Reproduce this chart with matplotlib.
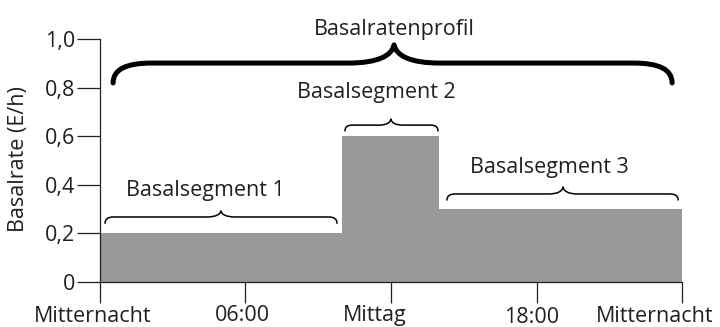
import matplotlib
matplotlib.use("Agg")
import matplotlib.pyplot as plt
from matplotlib.path import Path
from matplotlib.patches import PathPatch
from matplotlib.transforms import ScaledTranslation

plt.rcParams['font.family'] = ['Open Sans', 'DejaVu Sans']

# ---- data ----
seg_starts = [0, 10, 14]
seg_ends = [10, 14, 24]
seg_rates = [0.2, 0.6, 0.3]
seg_labels = ["Basalsegment 1", "Basalsegment 2", "Basalsegment 3"]
profile_label = "Basalratenprofil"
x_ticks = [0, 6, 12, 18, 24]
x_tick_labels = ["Mitternacht", "06:00", "Mittag", "18:00", "Mitternacht"]
y_ticks = [0, 0.2, 0.4, 0.6, 0.8, 1.0]
y_tick_labels = ["0", "0,2", "0,4", "0,6", "0,8", "1,0"]
y_label = "Basalrate (E/h)"

TXT = '#231f20'
FILL = '#999999'
FS = 15.5

fig = plt.figure(figsize=(7.2, 3.27), dpi=100)
ax = fig.add_axes([0.1382, 0.1385, 0.8094, 0.7413])

xs = seg_starts + [seg_ends[-1]]
ys = seg_rates + [seg_rates[-1]]
ax.fill_between(xs, 0, ys, step='post', color=FILL, lw=0, zorder=1)

ax.set_xlim(0, 24)
ax.set_ylim(0, 1.0)
for s in ['top', 'right']:
    ax.spines[s].set_visible(False)
for s in ['left', 'bottom']:
    ax.spines[s].set_color(TXT)
    ax.spines[s].set_linewidth(0.9)
    ax.spines[s].set_zorder(3)

ax.set_xticks(x_ticks)
ax.set_xticklabels(x_tick_labels, fontsize=FS, color=TXT)
ax.set_yticks(y_ticks)
ax.set_yticklabels(y_tick_labels, fontsize=FS, color=TXT)
ax.tick_params(axis='x', direction='out', length=15, width=0.9, color=TXT, pad=0)
ax.tick_params(axis='y', direction='out', length=16.5, width=0.9, color=TXT, pad=1)
ax.text(-0.139, 0.506, y_label, transform=ax.transAxes, rotation=90,
        ha='center', va='center', fontsize=FS, color=TXT)

# per-label pixel offsets (dx, dy) as in the reference layout
offsets = [(-7, -3), (-2.5, -2), (-16, -2), (-5, -4.5), (-28, -3)]
for lbl, (dx, dy) in zip(ax.get_xticklabels(), offsets):
    lbl.set_transform(lbl.get_transform() +
                      ScaledTranslation(dx / 100, dy / 100, fig.dpi_scale_trans))


def brace(x0, x1, xm, ye, yf, yt, ce, ct, lw):
    verts = [
        (x0, ye),
        (x0, ye + (yf - ye) * 0.7), (x0 + 0.35 * ce, yf), (x0 + ce, yf),
        (xm - ct, yf),
        (xm - 0.35 * ct, yf), (xm - 0.05 * ct, yf + (yt - yf) * 0.4), (xm, yt),
        (xm + 0.05 * ct, yf + (yt - yf) * 0.4), (xm + 0.35 * ct, yf), (xm + ct, yf),
        (x1 - ce, yf),
        (x1 - 0.35 * ce, yf), (x1, ye + (yf - ye) * 0.7), (x1, ye),
    ]
    codes = [Path.MOVETO,
             Path.CURVE4, Path.CURVE4, Path.CURVE4,
             Path.LINETO,
             Path.CURVE4, Path.CURVE4, Path.CURVE4,
             Path.CURVE4, Path.CURVE4, Path.CURVE4,
             Path.LINETO,
             Path.CURVE4, Path.CURVE4, Path.CURVE4]
    p = PathPatch(Path(verts, codes), fill=False, lw=lw, edgecolor='black',
                  capstyle='round', joinstyle='round', clip_on=False, zorder=4)
    ax.add_patch(p)


# big brace
brace(0.56, 23.58, 12.13, 0.82, 0.902, 0.977, 1.6, 1.9, 3.6)
ax.text(12.13, 1.018, profile_label, ha='center', va='baseline', fontsize=FS,
        color=TXT, clip_on=False)

# segment braces
brace(0.23, 9.78, 5.0, 0.241, 0.267, 0.292, 0.35, 0.6, 1.1)
brace(10.11, 13.94, 12.0, 0.622, 0.646, 0.671, 0.3, 0.5, 1.1)
brace(14.31, 23.83, 19.09, 0.337, 0.362, 0.391, 0.35, 0.6, 1.1)

ax.text(4.35, 0.354, seg_labels[0], ha='center', va='baseline', fontsize=FS, color=TXT)
ax.text(11.4, 0.758, seg_labels[1], ha='center', va='baseline', fontsize=FS, color=TXT)
ax.text(18.51, 0.448, seg_labels[2], ha='center', va='baseline', fontsize=FS, color=TXT)

fig.savefig('out.png', dpi=100)
